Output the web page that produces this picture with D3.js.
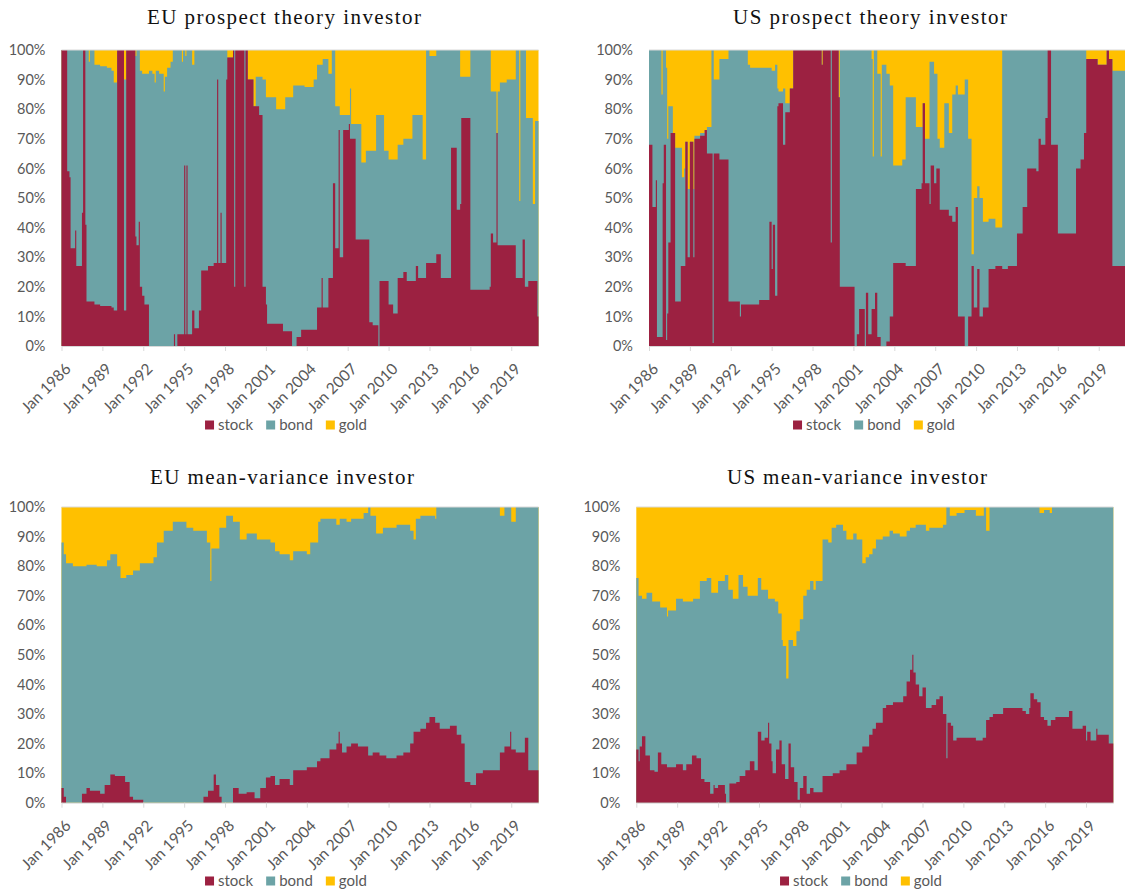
<!DOCTYPE html>
<html>
<head>
<meta charset="utf-8">
<script src="https://cdn.jsdelivr.net/npm/d3@7"></script>
<style>
  body { margin: 0; background: #fff; }
  svg { display: block; }
</style>
</head>
<body>
<svg id="chart" width="1125" height="894"></svg>
<script>
const keys = ['stock', 'bond', 'gold'];
const colors = { stock: '#9C2141', bond: '#6CA3A6', gold: '#FFC000' };
const nMonths = 420; // Jan 1986 .. Dec 2020
const startYear = 1986;
const xTickMonths = d3.range(0, 396 + 1, 36);
const yTicks = d3.range(0, 101, 10);

// each series: month index where an allocation starts (0 = Jan 1986), stock % and gold %, bond is the rest
const euPtMonth = [0, 5, 7, 8, 12, 13, 18, 19, 21, 22, 24, 25, 29, 34, 40, 44, 46, 49, 55, 57,
  65, 66, 68, 69, 71, 73, 77, 80, 82, 83, 86, 90, 91, 93, 96, 98, 99, 100, 102, 106,
  107, 108, 109, 110, 111, 115, 117, 121, 123, 129, 134, 137, 138, 140, 141, 145, 146, 151, 152, 153,
  161, 162, 164, 169, 171, 174, 177, 180, 181, 189, 195, 197, 203, 204, 207, 211, 214, 222, 225, 229,
  230, 235, 238, 239, 241, 244, 245, 248, 253, 254, 255, 259, 264, 268, 271, 274, 277, 279, 280, 284,
  288, 292, 296, 301, 304, 309, 312, 314, 318, 321, 324, 330, 334, 343, 348, 351, 352, 360, 377, 378,
  380, 383, 384, 386, 392, 400, 403, 404, 406, 408, 409, 411, 415, 417, 419];
const euPtStock = [100, 59, 57, 33, 39, 27, 45, 100, 41, 15, 15, 15, 14, 13.5, 13.5, 13, 12, 100, 12, 100,
  37, 34, 42, 20, 17, 14, 0, 0, 0, 0, 0, 0, 0, 0, 0, 0, 4, 0, 4, 4,
  4, 61, 4, 61, 4, 12, 6, 12, 25.5, 27, 28, 90, 28, 45, 28, 90, 97.5, 100, 20, 100,
  20, 100, 90, 81, 81, 78, 20, 14, 7.5, 7.5, 5, 5, 0, 0, 3, 5.5, 5.5, 5.5, 13, 23,
  13, 23, 23, 55, 33, 73, 30, 73, 75, 70, 70, 36, 36, 36, 8, 7, 7, 0, 22, 22,
  14, 11, 23, 25, 22, 22, 27, 23, 23, 28, 28, 31, 23, 67, 46, 48, 77, 19, 20, 38,
  35, 72, 34, 34, 34, 23, 23, 23, 36, 20, 20, 22, 22, 22, 10];
const euPtGold = [0, 0, 0, 0, 0, 0, 0, 0, 0, 0, 4, 0, 5, 5.5, 6, 7, 11, 0, 10, 0,
  2, 0, 0, 7, 8, 8, 7, 8, 11, 7, 8, 14, 9, 6, 4, 0, 0, 0, 0, 4,
  0, 0, 2, 0, 0, 5, 0, 0, 0, 0, 0, 0, 0, 0, 0, 0, 2.5, 0, 0, 0,
  0, 0, 10, 19, 9, 9, 10, 16, 16, 20, 20, 16, 16, 12, 12, 12, 12.5, 10, 5, 5,
  3, 8, 0, 0, 19, 19, 22, 22, 22, 13, 25, 25, 38, 34, 34, 34, 22, 22, 22, 34,
  37, 37, 32, 30, 30, 22, 22, 22, 37, 0, 2, 0, 0, 0, 0, 9, 9, 0, 0, 14,
  14, 28, 14, 11, 10, 0, 51, 0, 0, 0, 23, 23, 52, 24, 24];

const usPtMonth = [0, 3, 6, 7, 11, 12, 13, 15, 16, 17, 19, 21, 23, 28, 29, 31, 32, 34, 36, 39,
  40, 45, 49, 51, 55, 56, 57, 62, 70, 80, 81, 87, 89, 97, 106, 108, 109, 111, 113, 114,
  118, 120, 124, 127, 152, 153, 160, 161, 167, 168, 181, 183, 185, 190, 191, 193, 196, 197, 198, 199,
  201, 204, 205, 209, 212, 215, 223, 226, 235, 240, 241, 243, 247, 248, 251, 253, 254, 256, 260, 264,
  267, 270, 272, 278, 281, 284, 286, 289, 291, 294, 299, 305, 311, 316, 324, 329, 333, 341, 343, 345,
  349, 351, 354, 360, 376, 380, 383, 385, 395, 403, 405, 408];
const usPtStock = [68, 47, 56, 3, 3, 55, 68, 2, 11, 35, 72, 72, 15, 27, 27, 27, 69, 30, 69, 30,
  70, 71, 73, 65, 65, 1, 65, 63, 15, 10, 14, 14, 14, 15.5, 42, 26, 41, 17, 81, 82,
  68, 79, 87, 100, 95, 100, 35, 100, 84, 20, 0, 4, 12.5, 0, 18, 4, 12.5, 12.5, 12.5, 18,
  3, 0, 0, 1.5, 10, 28, 28, 27, 53, 55, 82, 55, 48, 61, 55, 60, 60, 46, 46, 44,
  42, 47, 10, 0, 10, 27, 13, 26, 10, 13, 26, 27, 26, 27, 38, 47, 60, 59, 70, 68,
  77, 100, 68, 38, 60, 63, 72, 97, 95, 100, 97, 27];
const usPtGold = [0, 0, 0, 0, 15, 0, 0, 6, 30, 19, 19, 28, 33, 33, 43, 40, 31, 47, 31, 47,
  29, 28, 27, 26, 0, 0, 10, 3, 0, 0, 0, 5, 6, 6, 6, 7, 7, 5, 13, 14,
  13, 18, 13, 0, 5, 0, 0, 0, 16, 0, 0, 0, 0, 0, 0, 0, 3, 36, 0, 0,
  8, 36, 5, 8, 12, 39, 37, 16, 26, 26, 18, 30, 4, 4, 8, 8, 30, 33, 18, 28,
  15, 12, 15, 10, 30, 69, 50, 46, 50, 58, 57, 60, 0, 0, 0, 0, 0, 0, 0, 0,
  0, 0, 0, 0, 0, 0, 0, 3, 5, 0, 3, 7];

const euMvMonth = [0, 2, 4, 10, 18, 22, 25, 31, 34, 38, 40, 43, 47, 49, 52, 56, 57, 60, 63, 69,
  72, 81, 84, 90, 98, 110, 116, 125, 128, 129, 131, 132, 134, 136, 139, 141, 145, 151, 156, 157,
  163, 170, 172, 175, 180, 184, 188, 192, 201, 204, 216, 219, 225, 226, 228, 236, 242, 244, 245, 247,
  251, 255, 261, 266, 270, 272, 274, 277, 280, 283, 286, 295, 301, 307, 310, 312, 316, 321, 324, 329,
  330, 333, 342, 348, 352, 355, 360, 365, 371, 386, 390, 395, 396, 400, 408, 411];
const euMvStock = [5, 2, 0, 0, 3, 5, 4, 4, 3, 6, 6, 9.5, 9, 9, 9, 7, 7, 2, 1, 1,
  0, 0, 0, 0, 0, 0, 0, 2, 2, 4, 4, 4, 9.5, 6, 2, 0, 0, 5, 3, 3,
  3.5, 1.5, 1.5, 5, 8.5, 9, 6, 8, 6, 11, 12, 12, 14, 14, 15, 18, 20, 24, 20, 17,
  19, 20, 19, 19, 16, 16, 17, 17, 16, 16, 15, 16, 17, 20, 24, 24, 25, 27, 29, 27,
  27, 25, 26, 23, 20, 7, 6, 10, 11, 17, 19, 24, 18, 17, 22, 11];
const euMvGold = [12, 16, 19, 20, 20, 19.5, 19.5, 20, 20, 20, 18, 16, 16, 20, 24, 24, 23, 23, 21.5, 19,
  19, 17, 12, 8, 5, 7, 8, 8, 12, 12, 25, 14, 14, 14, 7, 7, 3, 5, 5, 11,
  9, 9, 11, 11, 11, 12, 15, 16, 18, 15, 16, 12, 12, 5, 4, 4, 6, 6, 4, 4,
  5, 4, 4, 2, 0, 3, 3, 9, 9, 7, 7, 6, 6, 8, 11, 4, 3, 3, 3, 4,
  0, 0, 0, 0, 0, 0, 0, 0, 0, 3, 0, 0, 5, 0, 0, 0];

const usMvMonth = [0, 2, 3, 5, 8, 9, 12, 14, 16, 19, 21, 22, 27, 28, 35, 41, 44, 49, 50, 53,
  56, 57, 60, 62, 65, 66, 68, 69, 72, 78, 79, 81, 82, 85, 88, 90, 91, 94, 96, 98,
  100, 104, 107, 110, 113, 116, 117, 119, 120, 122, 123, 125, 126, 128, 129, 131, 132, 134, 136, 138,
  139, 141, 142, 144, 147, 150, 153, 156, 158, 164, 169, 172, 173, 176, 179, 182, 185, 191, 194, 199,
  202, 205, 208, 211, 217, 220, 223, 226, 232, 235, 238, 241, 243, 244, 246, 249, 252, 255, 258, 260,
  264, 267, 270, 273, 274, 276, 277, 279, 282, 289, 299, 305, 306, 308, 311, 314, 323, 340, 343, 346,
  347, 350, 353, 355, 356, 359, 362, 364, 365, 366, 369, 381, 384, 393, 396, 397, 400, 405, 406, 416];
const usMvStock = [18, 14, 19, 22.5, 16, 16, 11, 11, 10.5, 17, 17, 13, 12, 12, 13, 11, 13, 16, 16, 15,
  15, 8, 7, 7, 3, 3, 6, 5, 6, 3, 0, 0, 6.5, 6.5, 7, 7, 9, 9, 11, 11,
  14, 11, 24, 21, 22, 27, 20, 14, 10, 10, 18, 18, 21, 13, 13, 8, 8, 20, 12, 12,
  7, 7, 1, 5, 9, 3, 5, 3.5, 3.5, 9, 9, 9, 10, 10, 11, 11, 13, 13, 17, 19,
  19, 23, 25, 27, 32, 33, 33, 34, 34, 36, 41, 45, 50, 44, 40, 36, 39, 32, 32, 33,
  35, 36, 30, 15, 27, 27, 26, 21, 22, 22, 21, 22, 22, 28, 29, 30, 32, 31, 30, 32,
  37, 35, 34, 34, 29, 28, 26, 26, 28, 28, 29, 31, 25, 26, 21, 24, 21, 25, 23, 20];
const usMvGold = [24, 30, 30, 31, 31, 29, 29, 32, 32, 32, 34, 34, 37, 35, 31, 32, 32, 32, 31, 31,
  25, 25, 25, 24, 24, 29, 29, 29, 25, 23, 23, 28, 28, 31, 31, 23, 23, 27, 27, 30,
  30, 30, 24, 28, 28, 31, 31, 31, 31, 32, 32, 36, 36, 45, 47, 47, 58, 45, 45, 47,
  47, 42, 42, 38, 30, 28, 25, 28, 25, 11, 12, 7, 7, 6, 6, 8, 11, 9, 11, 19,
  17, 16, 14, 11, 10, 10, 8, 9, 10, 10, 8, 7, 7, 7, 6, 6, 6, 8, 7, 7,
  7, 7, 6, 0, 0, 3, 3, 3, 2, 1, 3, 3, 0, 8, 0, 0, 0, 0, 0, 0,
  0, 0, 0, 2, 2, 1, 1, 2, 2, 0, 0, 0, 0, 0, 0, 0, 0, 0, 0, 0];

const panels = [
  { title: 'EU prospect theory investor', month: euPtMonth, stock: euPtStock, gold: euPtGold,
    left: 61.5, top: 50, bottom: 346, titleX: 284, titleY: 24, titleW: 274, legendX: 286, legendY: 425 },
  { title: 'US prospect theory investor', month: usPtMonth, stock: usPtStock, gold: usPtGold,
    left: 649, top: 50, bottom: 346, titleX: 870, titleY: 24, titleW: 274, legendX: 874, legendY: 425 },
  { title: 'EU mean-variance investor', month: euMvMonth, stock: euMvStock, gold: euMvGold,
    left: 61.5, top: 507, bottom: 802.7, titleX: 282, titleY: 484, titleW: 264, legendX: 286, legendY: 881 },
  { title: 'US mean-variance investor', month: usMvMonth, stock: usMvStock, gold: usMvGold,
    left: 636.3, top: 507, bottom: 802.7, titleX: 857, titleY: 484, titleW: 260, legendX: 861, legendY: 881 },
];

const plotWidth = 477;
const labelFont = 'Lato, "Open Sans", sans-serif';
const labelColor = '#595959';
const svg = d3.select('#chart');

function drawPanel(p) {
  const rows = p.month.map((m, i) => ({
    m,
    stock: p.stock[i],
    gold: p.gold[i],
    bond: Math.max(0, 100 - p.stock[i] - p.gold[i]),
  }));
  rows.push({ ...rows[rows.length - 1], m: nMonths });

  const x = d3.scaleLinear().domain([0, nMonths]).range([p.left, p.left + plotWidth]);
  const y = d3.scaleLinear().domain([0, 100]).range([p.bottom, p.top]);

  const series = d3.stack().keys(keys)(rows);

  const g = svg.append('g');

  // layers drawn from the baseline, top layer first, so no seams show between them
  const area = d3.area()
    .curve(d3.curveStepAfter)
    .x((d) => x(d.data.m))
    .y0(y(0))
    .y1((d) => y(d[1]));

  g.selectAll('path.layer')
    .data(series.slice().reverse())
    .join('path')
    .attr('class', 'layer')
    .attr('fill', (s) => colors[s.key])
    .attr('d', area);

  g.append('line')
    .attr('x1', p.left).attr('x2', p.left + plotWidth)
    .attr('y1', p.top).attr('y2', p.top)
    .attr('stroke', '#d9d9d9').attr('stroke-width', 1);

  // x axis
  const xAxis = g.append('g')
    .attr('transform', `translate(0,${p.bottom})`)
    .call(d3.axisBottom(x)
      .tickValues(xTickMonths)
      .tickSize(5)
      .tickSizeOuter(0)
      .tickFormat((m) => `Jan ${startYear + m / 12}`));
  xAxis.select('.domain').attr('stroke', '#d9d9d9');
  xAxis.selectAll('.tick line').attr('stroke', '#d9d9d9');
  xAxis.selectAll('.tick text')
    .attr('x', 0).attr('y', 0).attr('dy', '0.35em')
    .attr('text-anchor', 'end')
    .attr('transform', 'translate(6,20) rotate(-45)')
    .attr('fill', labelColor)
    .style('font', `15.5px ${labelFont}`);

  // y axis
  const yAxis = g.append('g')
    .attr('transform', `translate(${p.left},0)`)
    .call(d3.axisLeft(y)
      .tickValues(yTicks)
      .tickSize(0)
      .tickPadding(16)
      .tickFormat((v) => `${v}%`));
  yAxis.select('.domain').remove();
  yAxis.selectAll('.tick text')
    .attr('fill', labelColor)
    .style('font', `14.5px ${labelFont}`);

  // title
  g.append('text')
    .attr('x', p.titleX).attr('y', p.titleY)
    .attr('text-anchor', 'middle')
    .attr('textLength', p.titleW)
    .attr('lengthAdjust', 'spacing')
    .attr('fill', '#111')
    .style('font', '21px "Liberation Serif", "DejaVu Serif", serif')
    .text(p.title);

  // legend
  const leg = g.append('g');
  const items = leg.selectAll('g')
    .data(keys)
    .join('g');
  items.append('rect')
    .attr('width', 9).attr('height', 9)
    .attr('y', -4.5)
    .attr('fill', (k) => colors[k]);
  items.append('text')
    .attr('x', 13).attr('dy', '0.35em')
    .attr('fill', labelColor)
    .style('font', `15px ${labelFont}`)
    .text((k) => k);
  let cx = 0;
  items.each(function () {
    const w = 13 + d3.select(this).select('text').node().getComputedTextLength();
    d3.select(this).attr('transform', `translate(${cx},0)`);
    cx += w + 13;
  });
  const total = cx - 13;
  leg.attr('transform', `translate(${p.legendX - total / 2},${p.legendY})`);
}

panels.forEach(drawPanel);
</script>
</body>
</html>
